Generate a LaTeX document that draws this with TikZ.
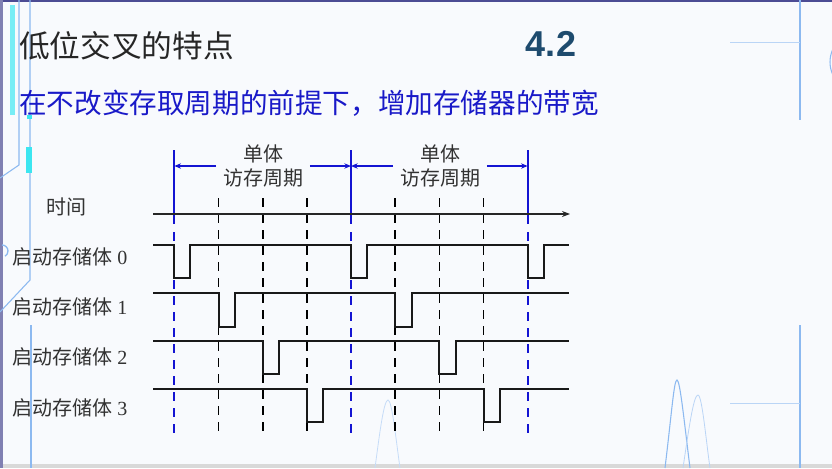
\documentclass[tikz,border=0pt]{standalone}
\usepackage{fontspec}
\setmainfont{Liberation Serif}
\newfontfamily\cjk{Noto Sans CJK SC}
\newfontfamily\headfont{Liberation Sans}
\usetikzlibrary{positioning,arrows.meta}

\definecolor{slidebg}{RGB}{248,250,253}
\definecolor{deco}{RGB}{140,185,240}
\definecolor{decocyan}{RGB}{60,230,240}
\definecolor{subblue}{RGB}{25,25,200}
\definecolor{numblue}{RGB}{30,75,110}
\definecolor{cycblue}{RGB}{20,20,210}
\definecolor{labgray}{RGB}{50,50,50}

\tikzset{
  wave/.style={line width=1.5pt, black!90},
  slot/.style={line width=1.3pt, dash pattern=on 6.5pt off 5.5pt, black},
  cycline/.style={line width=1.5pt, cycblue},
  cycslot/.style={line width=1.3pt, dash pattern=on 6.5pt off 5.5pt, cycblue},
  period/.style={line width=1.1pt, cycblue, -{Stealth[length=5pt,width=4pt]}},
  timeaxis/.style={line width=1.1pt, black!85, -{Stealth[length=6pt,width=4.5pt]}},
  banklbl/.style={anchor=west, text=labgray, font=\fontsize{15}{18}\selectfont, inner sep=0pt},
  cyclbl/.style={align=center, text=labgray, font=\cjk\fontsize{15}{18}\selectfont, inner sep=5pt},
}

\begin{document}
\begin{tikzpicture}[x=0.75pt,y=-0.75pt]
    \fill[slidebg] (0,0) rectangle (832,468);
    \useasboundingbox (0,0) rectangle (832,468);

    % slide decoration
    \begin{scope}
    \clip (0,0) rectangle (832,468);
    \fill[blue!40!black!70] (0,0) rectangle (832,1.5);
    \fill[black!15] (0,464) rectangle (832,468);
    \fill[black!60!blue!50] (0,0) rectangle (2.5,468);
    \fill[decocyan!70] (10,5) rectangle (15,115);
    \draw[deco, line width=0.8pt] (19,0) -- (19,165) -- (0,178);
    \draw[deco, line width=0.8pt] (30,0) -- (30,280) -- (0,312);
    \draw[deco, line width=0.8pt] (31,325) -- (31,468);
    \fill[decocyan] (26,147) rectangle (32,173);
    \fill[decocyan] (27,115) rectangle (32,119);
    \draw[deco, line width=1pt] (2,245) arc (-90:60:6);
    \draw[deco, line width=0.8pt] (800,0) -- (800,120);
    \draw[deco, line width=0.8pt] (800,325) -- (800,468);
    \draw[deco!60, line width=0.6pt] (730,42) -- (800,42);
    \draw[deco!60, line width=0.6pt] (730,403) -- (800,403);
    \draw[deco, line width=0.8pt] (860,62) circle (30);
    \draw[deco, line width=0.8pt] (665,468) .. controls (672,410) and (674,380) .. (677,380) .. controls (680,380) and (684,420) .. (690,468);
    \draw[deco!60, line width=0.6pt] (683,468) .. controls (690,420) and (694,395) .. (698,395) .. controls (702,395) and (706,440) .. (710,468);
    \draw[deco!50, line width=0.6pt] (375,468) .. controls (380,430) and (384,400) .. (388,400) .. controls (392,400) and (396,440) .. (400,468);
    \end{scope}

    % headings
    \node[anchor=west, font=\cjk\fontsize{23}{28}\selectfont, text=black!85, inner sep=0pt] (title) at (19,46) {低位交叉的特点};
    \node[font=\headfont\bfseries\fontsize{27}{32}\selectfont, text=numblue, inner sep=0pt] (secnum) at (551,44) {4.2};
    \node[anchor=west, font=\cjk\fontsize{20.7}{25}\selectfont, text=subblue, inner sep=0pt] (subtitle) at (19,103) {在不改变存取周期的前提下，增加存储器的带宽};

    % period marks
    \coordinate (p0) at (174.3,150);
    \coordinate (p1) at (351,150);
    \coordinate (p2) at (527.7,150);
    \draw[cycline] (p0) -- (174.3,224);
    \draw[cycline] (p1) -- (351,224);
    \draw[cycline] (p2) -- (527.7,224);
    \draw[cycslot] (174.3,232) -- (174.3,437);
    \draw[cycslot] (351,232) -- (351,437);
    \draw[cycslot] (527.7,232) -- (527.7,437);

    \draw[slot] (218.5,198) -- (218.5,437);
    \draw[slot] (262.7,198) -- (262.7,437);
    \draw[slot] (306.8,198) -- (306.8,437);
    \draw[slot] (395.2,198) -- (395.2,437);
    \draw[slot] (439.4,198) -- (439.4,437);
    \draw[slot] (483.5,198) -- (483.5,437);

    \node[cyclbl] (cyc1) at (263,166) {单体\\访存周期};
    \node[cyclbl] (cyc2) at (440,166) {单体\\访存周期};
    \draw[period] (cyc1.west) -- (cyc1.west -| p0);
    \draw[period] (cyc1.east) -- (cyc1.east -| p1);
    \draw[period] (cyc2.west) -- (cyc2.west -| p1);
    \draw[period] (cyc2.east) -- (cyc2.east -| p2);

    % time axis
    \node[cyclbl, inner sep=0pt] (timelbl) at (66,207) {时间};
    \coordinate (axs) at (153,214);
    \coordinate (axe) at (570,214);
    \draw[timeaxis] (axs) -- (axe);

    % banks
    \node[banklbl] (bank0) at (12,257) {{\cjk 启动存储体} 0};
    \draw[wave] (153,245) -- (174.3,245) -- (174.3,278) -- (190.3,278) -- (190.3,245)
        -- (351,245) -- (351,278) -- (367,278) -- (367,245)
        -- (527.7,245) -- (527.7,278) -- (543.5,278) -- (543.5,245) -- (569,245);

    \node[banklbl] (bank1) at (12,307) {{\cjk 启动存储体} 1};
    \draw[wave] (153,293) -- (218.5,293) -- (218.5,327) -- (235,327) -- (235,293)
        -- (395.2,293) -- (395.2,327) -- (411.5,327) -- (411.5,293) -- (569,293);

    \node[banklbl] (bank2) at (12,357) {{\cjk 启动存储体} 2};
    \draw[wave] (153,341) -- (262.7,341) -- (262.7,374) -- (279,374) -- (279,341)
        -- (439.4,341) -- (439.4,374) -- (456,374) -- (456,341) -- (569,341);

    \node[banklbl] (bank3) at (12,408) {{\cjk 启动存储体} 3};
    \draw[wave] (153,389) -- (306.8,389) -- (306.8,422) -- (322.7,422) -- (322.7,389)
        -- (483.5,389) -- (483.5,422) -- (499.5,422) -- (499.5,389) -- (569,389);

  \end{tikzpicture}
\end{document}
